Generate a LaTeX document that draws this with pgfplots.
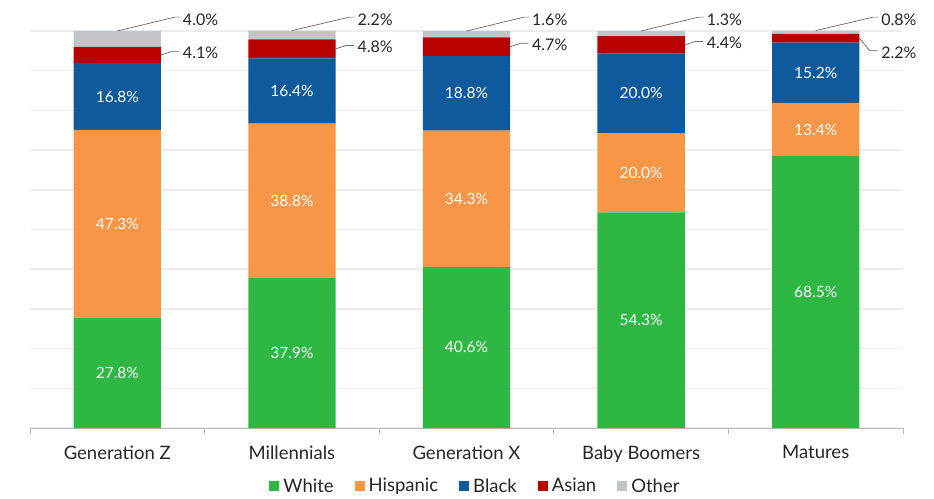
\documentclass[border=0pt]{standalone}
\usepackage{pgfplots}
\pgfplotsset{compat=1.18}
\usepackage{fontspec}
\setmainfont{Lato}
\definecolor{cW}{RGB}{46,183,66}
\definecolor{cH}{RGB}{247,150,70}
\definecolor{cB}{RGB}{14,90,156}
\definecolor{cA}{RGB}{184,0,0}
\definecolor{cO}{RGB}{194,198,202}
\definecolor{txt}{RGB}{38,38,38}
\pgfplotsset{
  base/.style={width=873pt, height=397pt, scale only axis, xmin=-0.5, xmax=4.5, ymin=0, ymax=100, clip=false},
  sq/.style={legend image code/.code={\fill[##1] (0pt,-5pt) rectangle (10pt,5pt);}},
}
\begin{document}
\begin{tikzpicture}
\useasboundingbox (-30pt,-70pt) rectangle (904pt,428pt);
\begin{axis}[base, ybar stacked, bar width=0.5,
  axis x line*=bottom, axis y line*=left, y axis line style={draw=none},
  x axis line style={draw=black!28, line width=1pt},
  ytick={0,10,...,100}, yticklabels={}, ytick style={draw=none},
  ymajorgrids, major grid style={draw=black!7, line width=1.6pt},
  xtick={0,...,4}, xticklabels={Generation Z,Millennials,Generation X,Baby Boomers,Matures},
  major tick length=0pt,
  x tick label style={font=\fontsize{18.5}{22}\selectfont, text=txt, yshift=-14pt},
  extra x ticks={-0.5,0.5,1.5,2.5,3.5,4.5}, extra x tick labels={},
  extra x tick style={major tick length=6pt, tick align=outside, tick style={draw=black!28, line width=0.8pt}, xmajorgrids=false},
  legend style={at={(0.5,-0.146)}, xshift=9pt, anchor=center, draw=none, legend columns=-1,
    font=\fontsize{18.5}{22}\selectfont, text=txt,
    /tikz/every odd column/.append style={column sep=2pt},
    /tikz/every even column/.append style={column sep=19pt}},
]
\addplot[fill=cW, draw=none, sq] coordinates {(0,27.8) (1,37.9) (2,40.6) (3,54.3) (4,68.5)};
\addplot[fill=cH, draw=none, sq] coordinates {(0,47.3) (1,38.8) (2,34.3) (3,20.0) (4,13.4)};
\addplot[fill=cB, draw=none, sq] coordinates {(0,16.8) (1,16.4) (2,18.8) (3,20.0) (4,15.2)};
\addplot[fill=cA, draw=none, sq] coordinates {(0,4.1) (1,4.8) (2,4.7) (3,4.4) (4,2.2)};
\addplot[fill=cO, draw=none, sq] coordinates {(0,4.0) (1,2.2) (2,1.6) (3,1.3) (4,0.8)};
\legend{White,Hispanic,Black,Asian,Other}
\end{axis}
\begin{axis}[base, hide axis]
% inside labels at segment midpoints
\addplot[draw=none, mark=none, nodes near coords={\pgfplotspointmeta\%}, point meta=explicit symbolic,
  nodes near coords style={anchor=center, text=white, font=\fontsize{15.5}{18}\selectfont}]
  coordinates {
  (0,13.9)[27.8] (1,18.95)[37.9] (2,20.3)[40.6] (3,27.15)[54.3] (4,34.25)[68.5]
  (0,51.45)[47.3] (1,57.3)[38.8] (2,57.75)[34.3] (3,64.3)[20.0] (4,75.2)[13.4]
  (0,83.5)[16.8] (1,84.9)[16.4] (2,84.3)[18.8] (3,84.3)[20.0] (4,89.5)[15.2]
  };
% outside labels
\addplot[draw=none, mark=none, nodes near coords={\pgfplotspointmeta\%}, point meta=explicit symbolic,
  nodes near coords style={anchor=west, inner sep=0pt, text=txt, font=\fontsize{16}{19}\selectfont}]
  coordinates {
  (0.375,102.9)[4.0] (1.375,102.9)[2.2] (2.375,102.9)[1.6] (3.375,102.9)[1.3] (4.375,102.9)[0.8]
  (0.375,94.6)[4.1] (1.375,96.0)[4.8] (2.375,96.6)[4.7] (3.375,97.0)[4.4] (4.375,94.5)[2.2]
  };
\foreach \c/\t in {0/100,1/100.1,2/100,3/100,4/100.1}{
  \edef\tmp{\noexpand\draw[black!60, line width=0.7pt] (axis cs:\c,\t) -- (axis cs:\c+0.33,103.5) -- (axis cs:\c+0.36,103.5);}\tmp
}
\foreach \c/\m in {0/93.95,1/95.5,2/96.05,3/96.5}{
  \edef\tmp{\noexpand\draw[black!60, line width=0.7pt] (axis cs:\c+0.25,\m) -- (axis cs:\c+0.31,\m+0.85) -- (axis cs:\c+0.355,\m+0.85);}\tmp
}
\draw[black!60, line width=0.7pt] (axis cs:4.25,98.2) -- (axis cs:4.31,95.0) -- (axis cs:4.355,95.0);
\end{axis}
\end{tikzpicture}
\end{document}
